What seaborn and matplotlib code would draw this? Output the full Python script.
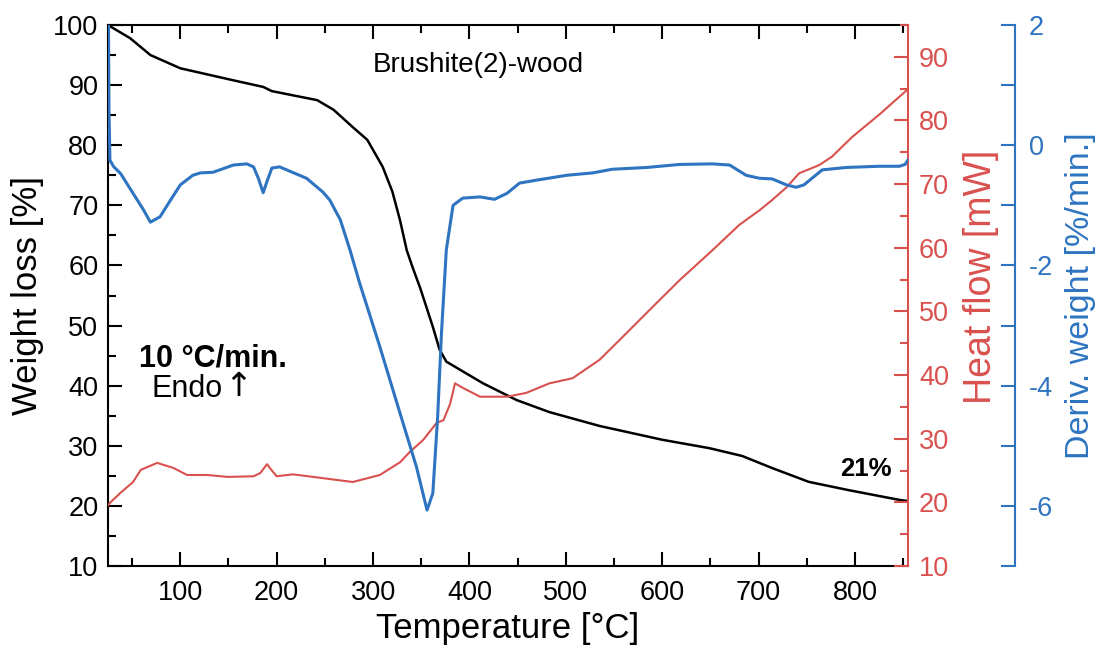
import matplotlib
matplotlib.use('Agg')
import numpy as np
import pandas as pd
import seaborn as sns
import matplotlib.pyplot as plt
from matplotlib.ticker import MultipleLocator

# ---------------- data ----------------
temp_weight = [25, 27, 48, 69, 100, 155, 186, 195, 242, 259, 279, 294, 310, 320, 328, 335,
               341, 349, 362, 369, 376, 414, 449, 483, 535, 600, 649, 683, 714, 752, 794,
               846, 855]
weight_loss = [100, 99.8, 97.8, 95, 92.8, 90.8, 89.7, 89, 87.5, 85.9, 83.0, 80.9, 76.4, 72.3,
               67.5, 62.5, 59.7, 56.2, 49.8, 46, 44, 40.4, 37.6, 35.6, 33.3, 31, 29.6, 28.3,
               26.3, 24, 22.6, 21, 20.8]

temp_heat = [25, 27.5, 38, 51, 59, 76, 93, 107, 128, 149, 176, 183, 190, 195, 200, 217, 248,
             279, 307, 328, 338, 352, 366, 373, 380, 385, 393, 411, 439, 459, 483, 507, 535,
             563, 590, 618, 652, 680, 701, 714, 729, 742, 763, 776, 797, 825, 854]
heat_flow = [19.5, 20, 21.5, 23.2, 25.1, 26.2, 25.4, 24.3, 24.3, 24.0, 24.1, 24.6, 26, 25,
             24.1, 24.4, 23.8, 23.2, 24.3, 26.3, 27.9, 29.8, 32.5, 32.9, 35.5, 38.7, 38, 36.6,
             36.6, 37.2, 38.7, 39.5, 42.4, 46.6, 50.7, 54.9, 59.6, 63.6, 65.9, 67.5, 69.5,
             71.7, 73, 74.3, 77.4, 80.9, 84.8]

temp_deriv = [25.5, 26, 27, 31, 38, 51, 62, 69, 79, 90, 100, 113, 121, 134, 155, 169, 176,
              181, 186, 190, 195, 203, 231, 248, 255, 266, 276, 286, 307, 328, 345, 356, 362,
              367, 371, 376, 383, 393, 411, 426, 439, 452, 470, 501, 528, 548, 584, 618,
              652, 670, 687, 701, 714, 729, 739, 747, 766, 791, 825, 846, 852, 856]
deriv_weight = [2.0, 0.6, -0.25, -0.36, -0.47, -0.80, -1.08, -1.28, -1.19, -0.91, -0.66,
                -0.50, -0.46, -0.45, -0.33, -0.31, -0.36, -0.55, -0.79, -0.6, -0.38, -0.36,
                -0.55, -0.78, -0.91, -1.24, -1.74, -2.29, -3.35, -4.46, -5.35, -6.07, -5.79,
                -4.52, -3.12, -1.74, -1.00, -0.88, -0.86, -0.9, -0.8, -0.63, -0.58, -0.5,
                -0.46, -0.4, -0.37, -0.32, -0.31, -0.33, -0.5, -0.55, -0.56, -0.66, -0.7,
                -0.66, -0.41, -0.37, -0.35, -0.35, -0.32, -0.22]

x_ticks = [100, 200, 300, 400, 500, 600, 700, 800]

# ---------------- styling ----------------
sns.set_style('ticks')
plt.rcParams['font.family'] = ['Liberation Sans', 'DejaVu Sans']
plt.rcParams['axes.unicode_minus'] = False
plt.rcParams['text.color'] = 'black'
plt.rcParams['axes.labelcolor'] = 'black'
plt.rcParams['xtick.color'] = 'black'
plt.rcParams['ytick.color'] = 'black'

RED = '#D9514E'
BLUE = '#2E74C0'
TICK_FS = 19.5
LABEL_FS = 25

fig = plt.figure(figsize=(11.01, 6.66), dpi=100)
ax = fig.add_axes([108 / 1101, 100 / 666, 800 / 1101, 541 / 666])
axr = ax.twinx()
axb = ax.twinx()

sns.lineplot(x=temp_weight, y=weight_loss, ax=ax, color='black', lw=1.8,
             sort=False, estimator=None)
sns.lineplot(x=temp_heat, y=heat_flow, ax=axr, color=RED, lw=1.5,
             sort=False, estimator=None)
sns.lineplot(x=temp_deriv, y=deriv_weight, ax=axb, color=BLUE, lw=2.2,
             sort=False, estimator=None)

# main axis
ax.set_xlim(25, 855)
ax.set_ylim(10, 100)
ax.set_xticks(x_ticks)
ax.xaxis.set_minor_locator(MultipleLocator(50))
ax.yaxis.set_major_locator(MultipleLocator(10))
ax.yaxis.set_minor_locator(MultipleLocator(5))
ax.tick_params(which='both', direction='in', top=True, right=False, width=1.5,
               labelsize=TICK_FS, colors='black')
ax.tick_params(which='major', length=10)
ax.tick_params(which='minor', length=6)
ax.tick_params(axis='x', which='major', pad=10)
ax.tick_params(axis='y', which='major', pad=7)
for s in ['left', 'top', 'bottom']:
    ax.spines[s].set_linewidth(1.5)
    ax.spines[s].set_color('black')
ax.spines['right'].set_visible(False)
ax.set_xlabel('Temperature [°C]', fontsize=LABEL_FS)
ax.set_ylabel('Weight loss [%]', fontsize=LABEL_FS)
ax.xaxis.set_label_coords(0.5, -0.085)
ax.yaxis.set_label_coords(-0.08, 0.5)

# heat flow axis
axr.set_ylim(10, 95)
axr.yaxis.set_major_locator(MultipleLocator(10))
axr.yaxis.set_minor_locator(MultipleLocator(5))
axr.tick_params(which='both', direction='in', width=1.5, colors=RED,
                labelsize=TICK_FS, pad=8)
axr.tick_params(which='major', length=10)
axr.tick_params(which='minor', length=6)
for s in ['left', 'top', 'bottom']:
    axr.spines[s].set_visible(False)
axr.spines['right'].set_color(RED)
axr.spines['right'].set_linewidth(1.5)
axr.set_ylabel('Heat flow [mW]', fontsize=27, color=RED)
axr.yaxis.set_label_coords(1.069, 0.535)

# derivative axis
axb.spines['right'].set_position(('axes', 1 + 107 / 800))
axb.set_ylim(-7, 2)
axb.yaxis.set_major_locator(MultipleLocator(2))
axb.yaxis.set_minor_locator(MultipleLocator(1))
axb.tick_params(which='both', direction='in', width=1.5, colors=BLUE,
                labelsize=TICK_FS, pad=10)
axb.tick_params(which='major', length=10)
axb.tick_params(which='minor', length=10)
for s in ['left', 'top', 'bottom']:
    axb.spines[s].set_visible(False)
axb.spines['right'].set_color(BLUE)
axb.spines['right'].set_linewidth(1.5)
axb.set_ylabel('Deriv. weight [%/min.]', fontsize=24.5, color=BLUE)
axb.yaxis.set_label_coords(1.196, 0.5)

# annotations
ax.text(300, 93.3, 'Brushite(2)-wood', fontsize=20, va='center', ha='left')
ax.text(57, 44.6, '10 °C/min.', fontsize=22, fontweight='bold', va='center', ha='left')
ax.text(70, 39.4, 'Endo', fontsize=22, va='center', ha='left')
ax.text(146, 39.8, '↑', fontsize=24, va='center', ha='left', family=['DejaVu Sans'])
ax.text(785, 26.1, '21%', fontsize=18.5, fontweight='bold', va='center', ha='left')

fig.savefig('out.png', dpi=100)
